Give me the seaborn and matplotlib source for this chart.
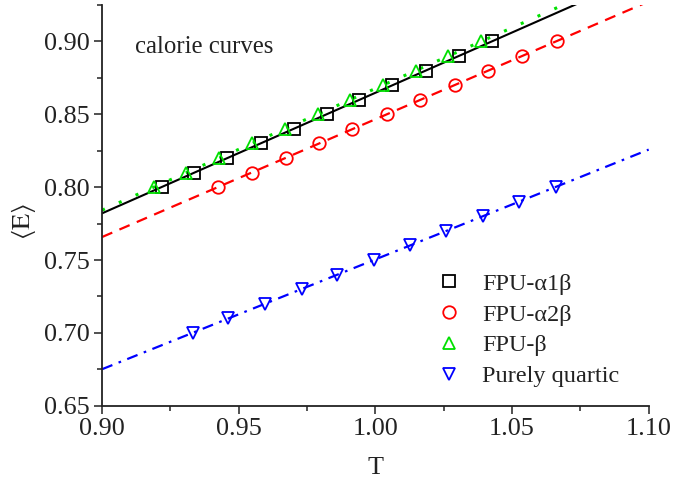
import numpy as np
import pandas as pd
import seaborn as sns
import matplotlib.pyplot as plt
from matplotlib.ticker import MultipleLocator

sns.set_theme(style="ticks")
plt.rcParams["font.family"] = ["Liberation Serif", "DejaVu Serif"]
plt.rcParams["mathtext.fontset"] = "stix"

# Mean energy per particle on the calorie curves
energy_upper = [0.80, 0.81, 0.82, 0.83, 0.84, 0.85, 0.86, 0.87, 0.88, 0.89, 0.90]
energy_quartic = [0.70, 0.71, 0.72, 0.73, 0.74, 0.75, 0.76, 0.77, 0.78, 0.79, 0.80]

# Temperatures measured at each energy
T_fpu_a1b = [0.9218, 0.9337, 0.9458, 0.9580, 0.9702, 0.9822, 0.9941, 1.0062, 1.0185, 1.0305, 1.0426]
T_fpu_a2b = [0.9425, 0.9547, 0.9672, 0.9793, 0.9915, 1.0043, 1.0165, 1.0291, 1.0412, 1.0535, 1.0663]
T_fpu_b = [0.9191, 0.9306, 0.9428, 0.9550, 0.9669, 0.9789, 0.9907, 1.0027, 1.0148, 1.0266, 1.0388]
T_quartic = [0.9334, 0.9462, 0.9596, 0.9730, 0.9860, 0.9995, 1.0126, 1.0258, 1.0392, 1.0526, 1.0660]

labels = ["FPU-α1β", "FPU-α2β", "FPU-β", "Purely quartic"]

series = [
    (T_fpu_a1b, energy_upper, labels[0], "black", "s", "-", 1.5),
    (T_fpu_a2b, energy_upper, labels[1], "#ff0000", "o", (0, (5, 3.5)), 1.6),
    (T_fpu_b, energy_upper, labels[2], "#00e000", "^", (0, (1, 5)), 2.2),
    (T_quartic, energy_quartic, labels[3], "#0000ff", "v", (0, (5, 3, 1.2, 3)), 1.6),
]

fig, ax = plt.subplots(figsize=(6.85, 4.83), dpi=100)
fig.subplots_adjust(left=0.149, right=0.947, bottom=0.160, top=0.9896)

ax.set_xlim(0.90, 1.10)
ax.set_ylim(0.65, 0.925)

# Linear fits spanning the full temperature range
for T, E, lab, col, mk, ls, lw in series:
    df = pd.DataFrame({"T": T, "E": E})
    sns.regplot(data=df, x="T", y="E", ax=ax, scatter=False, ci=None,
                truncate=False, color=col,
                line_kws={"linestyle": ls, "linewidth": lw})

# Measured points as hollow markers
for T, E, lab, col, mk, ls, lw in series:
    df = pd.DataFrame({"T": T, "E": E})
    sns.lineplot(data=df, x="T", y="E", ax=ax, linestyle="", marker=mk,
                 markersize=9, markerfacecolor="none", markeredgecolor=col,
                 markeredgewidth=1.3, color=col, label=lab, errorbar=None,
                 sort=False, zorder=4)

ax.set_xlim(0.90, 1.10)
ax.set_ylim(0.65, 0.925)

ax.xaxis.set_major_locator(MultipleLocator(0.05))
ax.xaxis.set_minor_locator(MultipleLocator(0.025))
ax.yaxis.set_major_locator(MultipleLocator(0.05))
ax.yaxis.set_minor_locator(MultipleLocator(0.025))
ax.xaxis.set_major_formatter(plt.FormatStrFormatter("%.2f"))
ax.yaxis.set_major_formatter(plt.FormatStrFormatter("%.2f"))

tick_fs = 18.8
text_fs = 17.8
ax.tick_params(which="major", direction="out", length=6, width=1.1,
               labelsize=tick_fs, color="#222222", labelcolor="#222222", pad=3)
ax.tick_params(which="minor", direction="out", length=3.5, width=1.1, color="#222222")

sns.despine(ax=ax)
for side in ("left", "bottom"):
    ax.spines[side].set_linewidth(1.3)
    ax.spines[side].set_color("#222222")

ax.set_xlabel("T", fontsize=tick_fs, color="#222222", labelpad=12)
ax.set_ylabel(r"$\langle\mathrm{E}\rangle$", fontsize=19, color="#222222")
ax.yaxis.set_label_coords(-0.118, 0.46)

ax.text(0.06, 0.895, "calorie curves", transform=ax.transAxes,
        fontsize=text_fs, color="#222222", va="center", ha="left")

leg = ax.legend(loc="upper left", bbox_to_anchor=(0.59, 0.362), frameon=False,
                fontsize=17.5, handlelength=1.0, handletextpad=0.88,
                labelspacing=0.36, borderpad=0)
for t in leg.get_texts():
    t.set_color("#222222")

fig.savefig("out.png", dpi=100)
